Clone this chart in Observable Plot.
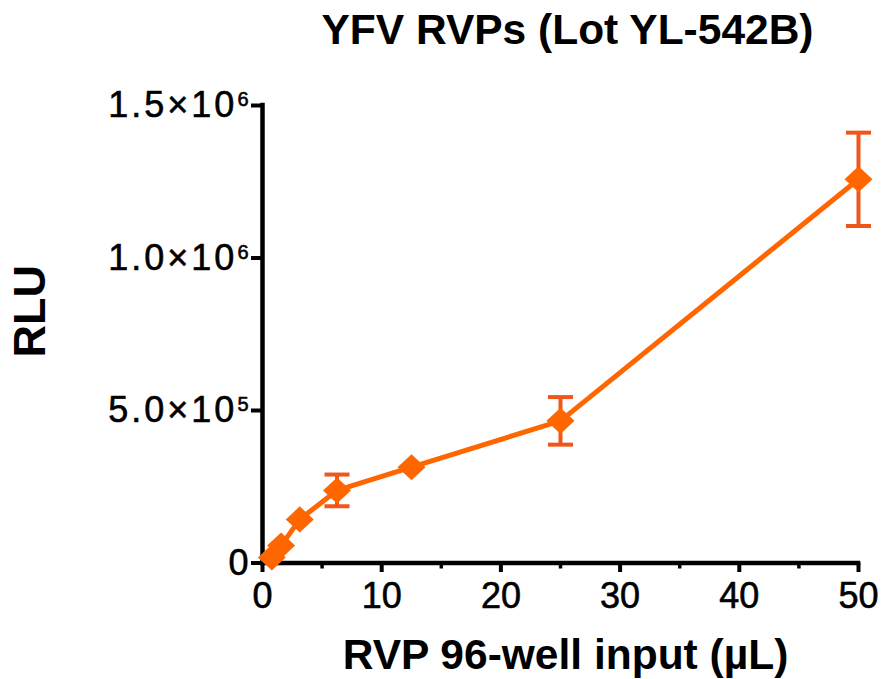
<!DOCTYPE html>
<html><head><meta charset="utf-8">
<script src="https://cdn.jsdelivr.net/npm/d3@7"></script>
<script src="https://cdn.jsdelivr.net/npm/@observablehq/plot@0.6"></script>
<style>
html,body{margin:0;padding:0;background:#fff;}
#chart svg{display:block;overflow:visible;}
</style></head><body><div id="chart"></div>
<script>
// ---- data ----
const volume = [0.78125, 1.5625, 3.125, 6.25, 12.5, 25, 50];
const rlu    = [18000, 57000, 143000, 238000, 314000, 466000, 1258000];
const sd     = [5000, 7000, 9000, 52000, 10000, 78000, 153000];
const xTicks = [0, 10, 20, 30, 40, 50];
const xMinorTicks = [5, 15, 25, 35, 45];
const yTicks = [0, 500000, 1000000, 1500000];
const yTickLabels = ["0", "5.0×10^5", "1.0×10^6", "1.5×10^6"];
const title = "YFV RVPs (Lot YL-542B)";
const xLabel = "RVP 96-well input (µL)";
const yLabel = "RLU";

const data = volume.map((v, i) => ({volume: v, rlu: rlu[i], sd: sd[i], lo: rlu[i] - sd[i], hi: rlu[i] + sd[i]}));
// Prism hides error bars that are shorter than the symbol
const errData = data.filter(d => d.sd > 30000);

const orange = "#ff6600";
const errColor = "#ee561a";
const font = "'Liberation Sans', Arial, Helvetica, sans-serif";

const diamond = {draw(ctx, size) {
  const r = Math.sqrt(size / Math.PI);
  ctx.moveTo(0, -r * 0.93); ctx.lineTo(r, 0); ctx.lineTo(0, r * 0.93); ctx.lineTo(-r, 0); ctx.closePath();
}};
const cap = {draw(ctx, size) {
  const r = Math.sqrt(size / Math.PI);
  ctx.moveTo(-r, 0); ctx.lineTo(r, 0);
}};

const svg = Plot.plot({
  width: 882,
  height: 679,
  marginLeft: 262,
  marginRight: 24,
  marginTop: 105,
  marginBottom: 116.5,
  style: {fontFamily: font, color: "#000", background: "#fff", overflow: "visible"},
  x: {domain: [0, 50]},
  y: {domain: [0, 1500000]},
  marks: [
    // axis lines
    Plot.ruleX([0], {y1: 0, y2: 1500000, stroke: "#000", strokeWidth: 4.5, strokeLinecap: "square"}),
    Plot.ruleY([0], {x1: 0, x2: 50, stroke: "#000", strokeWidth: 4.5, strokeLinecap: "square"}),
    Plot.axisY({ticks: yTicks, tickSize: 11, tickPadding: 3, stroke: "#000", strokeWidth: 4, fontSize: 36,
      textStroke: "#000", textStrokeWidth: 0.6,
      tickFormat: d => yTickLabels[yTicks.indexOf(d)], label: null}),
    Plot.axisX({ticks: xTicks, tickSize: 9.5, tickPadding: 10, stroke: "#000", strokeWidth: 4, fontSize: 36,
      textStroke: "#000", textStrokeWidth: 0.6,
      tickFormat: d => String(d), label: null}),
    Plot.axisX({ticks: xMinorTicks, tickSize: 6, stroke: "#000", strokeWidth: 3.5, tickFormat: () => "", label: null}),
    // error bars
    Plot.ruleX(errData, {x: "volume", y1: "lo", y2: "hi", stroke: errColor, strokeWidth: 4}),
    Plot.dot(errData, {x: "volume", y: "hi", symbol: cap, r: 12.5, stroke: errColor, strokeWidth: 4, fill: "none"}),
    Plot.dot(errData, {x: "volume", y: "lo", symbol: cap, r: 12.5, stroke: errColor, strokeWidth: 4, fill: "none"}),
    // line + symbols
    Plot.line(data, {x: "volume", y: "rlu", stroke: orange, strokeWidth: 5}),
    Plot.dot(data, {x: "volume", y: "rlu", symbol: diamond, r: 14, fill: orange, stroke: "none"}),
    // texts
    Plot.text([title], {text: d => d, frameAnchor: "top", textAnchor: "middle", lineAnchor: "middle",
      dx: 7, dy: -75, fontSize: 42.5, fontWeight: "bold", fill: "#000"}),
    Plot.text([xLabel], {text: d => d, frameAnchor: "bottom", textAnchor: "middle", lineAnchor: "middle",
      dx: 5, dy: 92.5, fontSize: 42.5, fontWeight: "bold", fill: "#000"}),
    Plot.text([yLabel], {text: d => d, frameAnchor: "left", textAnchor: "middle", lineAnchor: "middle",
      dx: -232, dy: -23, rotate: -90, fontSize: 45, fontWeight: "bold", fill: "#000"})
  ]
});

// superscript exponents on y tick labels
const ns = "http://www.w3.org/2000/svg";
svg.querySelectorAll('g[aria-label="y-axis tick label"] text').forEach(t => {
  const s = t.textContent;
  const i = s.indexOf("^");
  if (i < 0) return;
  t.textContent = "";
  const a = document.createElementNS(ns, "tspan");
  a.textContent = s.slice(0, i);
  a.setAttribute("letter-spacing", "3");
  const b = document.createElementNS(ns, "tspan");
  b.textContent = s.slice(i + 1);
  b.setAttribute("font-size", "20");
  b.setAttribute("dy", "-11");
  t.appendChild(a);
  t.appendChild(b);
});

document.getElementById("chart").appendChild(svg);
</script>
</body></html>
